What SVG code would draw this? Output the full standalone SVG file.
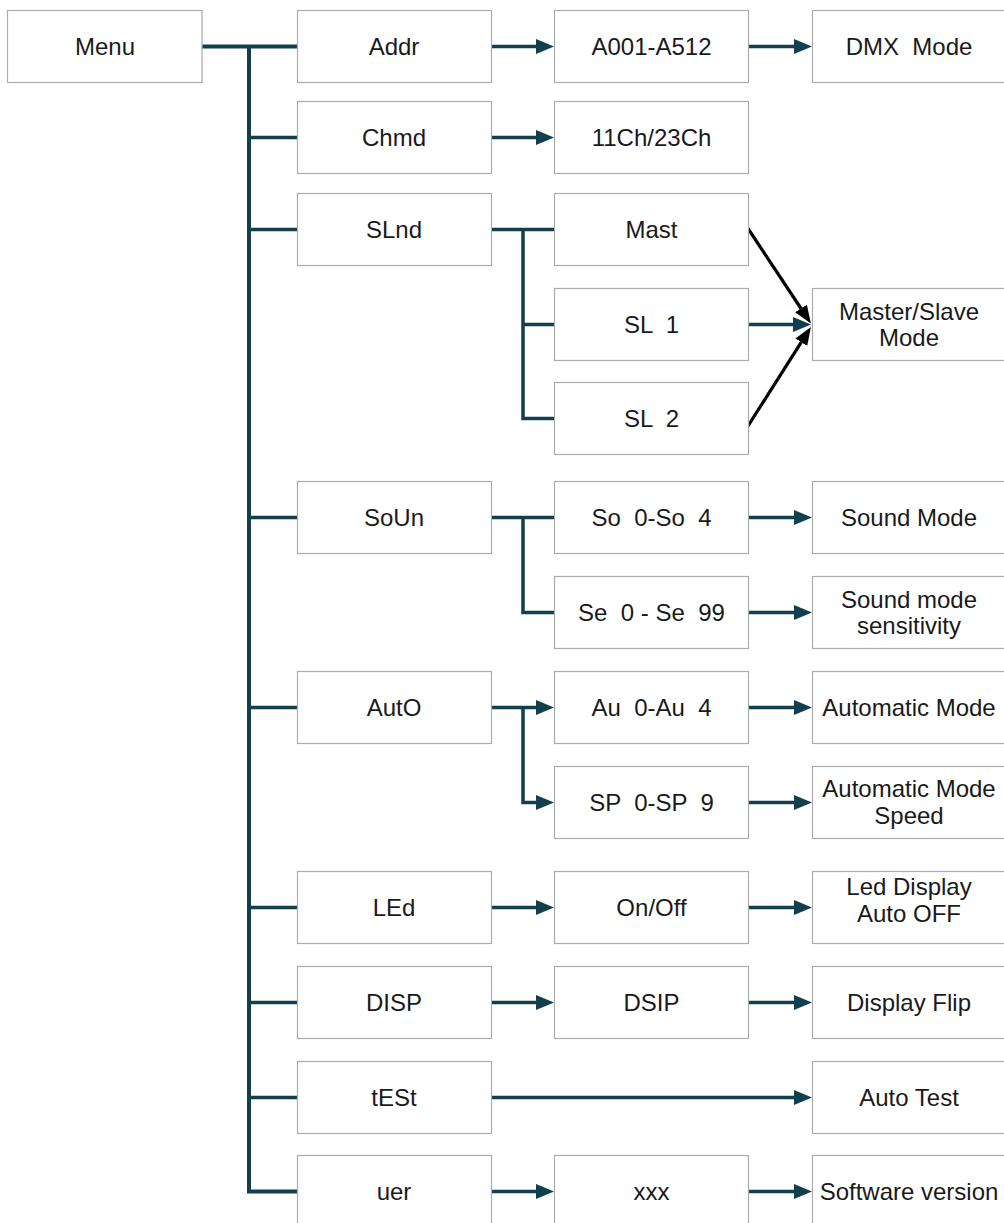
<svg xmlns="http://www.w3.org/2000/svg" width="1004" height="1223" viewBox="0 0 1004 1223">
<style>
.box{fill:#ffffff;stroke:#ababab;stroke-width:1.2}
.t{font-family:"Liberation Sans",Arial,sans-serif;font-size:24px;fill:#1a1a1a;text-anchor:middle;white-space:pre}
.ln{fill:none;stroke:#123f4c;stroke-width:3.5}
.tr{fill:none;stroke:#123f4c;stroke-width:4}
.bk{fill:none;stroke:#000000;stroke-width:3.2}
</style>
<defs>
<marker id="ah" markerUnits="userSpaceOnUse" markerWidth="19" markerHeight="16" refX="0" refY="7.5" orient="auto">
<path d="M0,0 L18,7.5 L0,15 z" fill="#123f4c"/>
</marker>
<marker id="ahb" markerUnits="userSpaceOnUse" markerWidth="19" markerHeight="16" refX="0" refY="7" orient="auto">
<path d="M0,0 L18,7 L0,14 z" fill="#000000"/>
</marker>
</defs>
<rect width="1004" height="1223" fill="#ffffff"/>

<g id="connectors">
<path class="tr" d="M202,46.5 H297 M249,46.5 V1191.5 H297"/>
<path class="ln" d="M249,137.5 H297 M249,229.5 H297 M249,517.5 H297 M249,707.5 H297 M249,907.5 H297 M249,1002.5 H297 M249,1097.5 H297"/>
<path class="ln" d="M491,229.5 H554.5 M523,229.5 V418.5 H554.5 M523,324.5 H554.5"/>
<path class="ln" d="M491,517.5 H554.5 M523,517.5 V612.5 H554.5"/>
<path class="ln" d="M491,707.5 H536" marker-end="url(#ah)"/>
<path class="ln" d="M523,707.5 V802.5 H536" marker-end="url(#ah)"/>
<path class="ln" d="M491,46.5 H536" marker-end="url(#ah)"/>
<path class="ln" d="M491,137.5 H536" marker-end="url(#ah)"/>
<path class="ln" d="M491,907.5 H536" marker-end="url(#ah)"/>
<path class="ln" d="M491,1002.5 H536" marker-end="url(#ah)"/>
<path class="ln" d="M491,1191.5 H536" marker-end="url(#ah)"/>
<path class="ln" d="M749,46.5 H794" marker-end="url(#ah)"/>
<path class="ln" d="M749,324.5 H793" marker-end="url(#ah)"/>
<path class="ln" d="M749,517.5 H794" marker-end="url(#ah)"/>
<path class="ln" d="M749,612.5 H794" marker-end="url(#ah)"/>
<path class="ln" d="M749,707.5 H794" marker-end="url(#ah)"/>
<path class="ln" d="M749,802.5 H794" marker-end="url(#ah)"/>
<path class="ln" d="M749,907.5 H794" marker-end="url(#ah)"/>
<path class="ln" d="M749,1002.5 H794" marker-end="url(#ah)"/>
<path class="ln" d="M491,1097.5 H794" marker-end="url(#ah)"/>
<path class="ln" d="M749,1191.5 H794" marker-end="url(#ah)"/>
<path class="bk" d="M748,228.5 L801,308.5" marker-end="url(#ahb)"/>
<path class="bk" d="M748,426 L801.3,342.2" marker-end="url(#ahb)"/>
</g>

<g id="n-menu"><rect class="box" x="7.5" y="10.5" width="194.5" height="72"/><text class="t" x="105" y="55">Menu</text></g>

<g id="n-addr"><rect class="box" x="297.5" y="10.5" width="194" height="72"/><text class="t" x="394" y="55">Addr</text></g>
<g id="n-chmd"><rect class="box" x="297.5" y="101.5" width="194" height="72"/><text class="t" x="394" y="146">Chmd</text></g>
<g id="n-slnd"><rect class="box" x="297.5" y="193.5" width="194" height="72"/><text class="t" x="394" y="238">SLnd</text></g>
<g id="n-soun"><rect class="box" x="297.5" y="481.5" width="194" height="72"/><text class="t" x="394" y="526">SoUn</text></g>
<g id="n-auto"><rect class="box" x="297.5" y="671.5" width="194" height="72"/><text class="t" x="394" y="716">AutO</text></g>
<g id="n-led"><rect class="box" x="297.5" y="871.5" width="194" height="72"/><text class="t" x="394" y="916">LEd</text></g>
<g id="n-disp"><rect class="box" x="297.5" y="966.5" width="194" height="72"/><text class="t" x="394" y="1011">DISP</text></g>
<g id="n-test"><rect class="box" x="297.5" y="1061.5" width="194" height="72"/><text class="t" x="394" y="1106">tESt</text></g>
<g id="n-uer"><rect class="box" x="297.5" y="1155.5" width="194" height="72"/><text class="t" x="394" y="1200">uer</text></g>

<g id="n-a001"><rect class="box" x="554.5" y="10.5" width="194" height="72"/><text class="t" x="651.5" y="55">A001-A512</text></g>
<g id="n-11ch"><rect class="box" x="554.5" y="101.5" width="194" height="72"/><text class="t" x="651.5" y="146">11Ch/23Ch</text></g>
<g id="n-mast"><rect class="box" x="554.5" y="193.5" width="194" height="72"/><text class="t" x="651.5" y="238">Mast</text></g>
<g id="n-sl1"><rect class="box" x="554.5" y="288.5" width="194" height="72"/><text class="t" x="651.5" y="333">SL  1</text></g>
<g id="n-sl2"><rect class="box" x="554.5" y="382.5" width="194" height="72"/><text class="t" x="651.5" y="427">SL  2</text></g>
<g id="n-so"><rect class="box" x="554.5" y="481.5" width="194" height="72"/><text class="t" x="651.5" y="526">So  0-So  4</text></g>
<g id="n-se"><rect class="box" x="554.5" y="576.5" width="194" height="72"/><text class="t" x="651.5" y="621">Se  0 - Se  99</text></g>
<g id="n-au"><rect class="box" x="554.5" y="671.5" width="194" height="72"/><text class="t" x="651.5" y="716">Au  0-Au  4</text></g>
<g id="n-sp"><rect class="box" x="554.5" y="766.5" width="194" height="72"/><text class="t" x="651.5" y="811">SP  0-SP  9</text></g>
<g id="n-onoff"><rect class="box" x="554.5" y="871.5" width="194" height="72"/><text class="t" x="651.5" y="916">On/Off</text></g>
<g id="n-dsip"><rect class="box" x="554.5" y="966.5" width="194" height="72"/><text class="t" x="651.5" y="1011">DSIP</text></g>
<g id="n-xxx"><rect class="box" x="554.5" y="1155.5" width="194" height="72"/><text class="t" x="651.5" y="1200">xxx</text></g>

<g id="n-dmx"><rect class="box" x="812.5" y="10.5" width="194" height="72"/><text class="t" x="909" y="55">DMX  Mode</text></g>
<g id="n-ms"><rect class="box" x="812.5" y="288.5" width="194" height="72"/><text class="t" x="909" y="320">Master/Slave</text><text class="t" x="909" y="346">Mode</text></g>
<g id="n-sound"><rect class="box" x="812.5" y="481.5" width="194" height="72"/><text class="t" x="909" y="526">Sound Mode</text></g>
<g id="n-sens"><rect class="box" x="812.5" y="576.5" width="194" height="72"/><text class="t" x="909" y="608">Sound mode</text><text class="t" x="909" y="634">sensitivity</text></g>
<g id="n-automode"><rect class="box" x="812.5" y="671.5" width="194" height="72"/><text class="t" x="909" y="716">Automatic Mode</text></g>
<g id="n-speed"><rect class="box" x="812.5" y="766.5" width="194" height="72"/><text class="t" x="909" y="797">Automatic Mode</text><text class="t" x="909" y="824">Speed</text></g>
<g id="n-ledoff"><rect class="box" x="812.5" y="871.5" width="194" height="72"/><text class="t" x="909" y="895">Led Display</text><text class="t" x="909" y="922">Auto OFF</text></g>
<g id="n-flip"><rect class="box" x="812.5" y="966.5" width="194" height="72"/><text class="t" x="909" y="1011">Display Flip</text></g>
<g id="n-autotest"><rect class="box" x="812.5" y="1061.5" width="194" height="72"/><text class="t" x="909" y="1106">Auto Test</text></g>
<g id="n-sw"><rect class="box" x="812.5" y="1155.5" width="194" height="72"/><text class="t" x="909" y="1200">Software version</text></g>
</svg>
